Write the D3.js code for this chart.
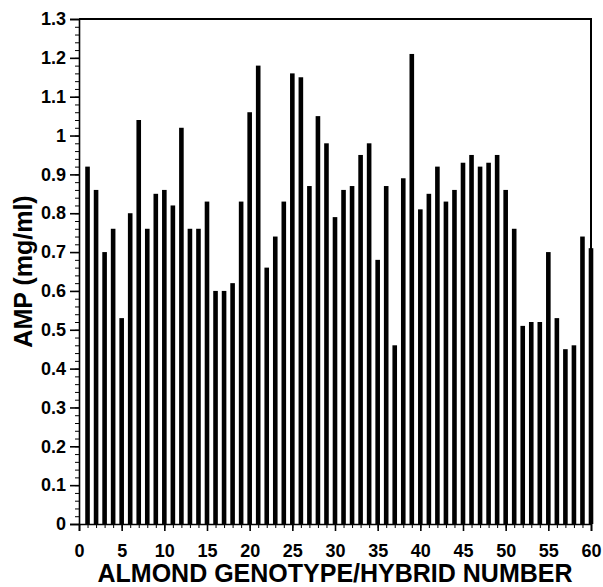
<!DOCTYPE html>
<html>
<head>
<meta charset="utf-8">
<script src="https://cdn.jsdelivr.net/npm/d3@7"></script>
<style>
  body { margin: 0; background: #fff; }
  text { font-family: "Liberation Sans", Arial, sans-serif; font-weight: bold; fill: #000; }
</style>
</head>
<body>
<div class="chart"></div>
<script>
var svgWidth = 603;
var svgHeight = 587;

var margin = { top: 19, right: 12, bottom: 63, left: 79 };

var width = svgWidth - margin.left - margin.right;
var height = svgHeight - margin.top - margin.bottom;

// genotype / hybrid numbers 1..60
var genotypes = [1,2,3,4,5,6,7,8,9,10,11,12,13,14,15,16,17,18,19,20,
  21,22,23,24,25,26,27,28,29,30,31,32,33,34,35,36,37,38,39,40,
  41,42,43,44,45,46,47,48,49,50,51,52,53,54,55,56,57,58,59,60];

// AMP (mg/ml)
var ampValues = [0.92,0.86,0.70,0.76,0.53,0.80,1.04,0.76,0.85,0.86,
  0.82,1.02,0.76,0.76,0.83,0.60,0.60,0.62,0.83,1.06,
  1.18,0.66,0.74,0.83,1.16,1.15,0.87,1.05,0.98,0.79,
  0.86,0.87,0.95,0.98,0.68,0.87,0.46,0.89,1.21,0.81,
  0.85,0.92,0.83,0.86,0.93,0.95,0.92,0.93,0.95,0.86,
  0.76,0.51,0.52,0.52,0.70,0.53,0.45,0.46,0.74,0.71];

var yTickValues = [0,0.1,0.2,0.3,0.4,0.5,0.6,0.7,0.8,0.9,1,1.1,1.2,1.3];
var yTickLabels = ["0","0.1","0.2","0.3","0.4","0.5","0.6","0.7","0.8","0.9","1","1.1","1.2","1.3"];
var xTickValues = [0,5,10,15,20,25,30,35,40,45,50,55,60];

var data = genotypes.map(function(g, i) { return { id: g, amp: ampValues[i] }; });

var svg = d3.select(".chart")
  .append("svg")
  .attr("width", svgWidth)
  .attr("height", svgHeight);

var chartGroup = svg.append("g")
  .attr("transform", `translate(${margin.left}, ${margin.top})`);

var xScale = d3.scaleLinear().domain([0, 60]).range([0, width]);
var yScale = d3.scaleLinear().domain([0, 1.3]).range([height, 0]);

// bars
chartGroup.selectAll(".bar")
  .data(data)
  .join("rect")
    .attr("class", "bar")
    .attr("x", d => xScale(d.id) - 2.3)
    .attr("width", 4.6)
    .attr("y", d => yScale(d.amp))
    .attr("height", d => height - yScale(d.amp))
    .attr("fill", "#000");

// minor ticks
var yMinor = d3.range(0, 131, 2).map(v => v / 100);
chartGroup.append("g")
  .call(d3.axisLeft(yScale).tickValues(yMinor).tickSize(4).tickFormat(""))
  .call(g => g.select(".domain").remove());

var xMinor = d3.range(0, 61);
chartGroup.append("g")
  .attr("transform", `translate(0, ${height})`)
  .call(d3.axisBottom(xScale).tickValues(xMinor).tickSize(4).tickFormat(""))
  .call(g => g.select(".domain").remove());

// major axes
var leftAxis = d3.axisLeft(yScale)
  .tickValues(yTickValues)
  .tickSize(9)
  .tickPadding(4)
  .tickFormat((d, i) => yTickLabels[i]);

var bottomAxis = d3.axisBottom(xScale)
  .tickValues(xTickValues)
  .tickSize(7)
  .tickPadding(13)
  .tickFormat(d3.format("d"));

chartGroup.append("g")
  .call(leftAxis)
  .call(g => g.selectAll("text").style("font-size", "18px"))
  .call(g => g.selectAll("line, path").attr("stroke-width", 1.6));

chartGroup.append("g")
  .attr("transform", `translate(0, ${height})`)
  .call(bottomAxis)
  .call(g => g.selectAll("text").style("font-size", "18px"))
  .call(g => g.selectAll("line, path").attr("stroke-width", 1.6));

// frame top and right
chartGroup.append("path")
  .attr("d", `M0,0H${width}V${height}`)
  .attr("fill", "none")
  .attr("stroke", "#000")
  .attr("stroke-width", 2);

// axis titles
chartGroup.append("text")
  .attr("x", width / 2)
  .attr("y", height + 58)
  .attr("text-anchor", "middle")
  .style("font-size", "25px")
  .text("ALMOND GENOTYPE/HYBRID NUMBER");

chartGroup.append("text")
  .attr("transform", `translate(${-47}, ${height / 2}) rotate(-90)`)
  .attr("text-anchor", "middle")
  .style("font-size", "25px")
  .text("AMP (mg/ml)");
</script>
</body>
</html>
